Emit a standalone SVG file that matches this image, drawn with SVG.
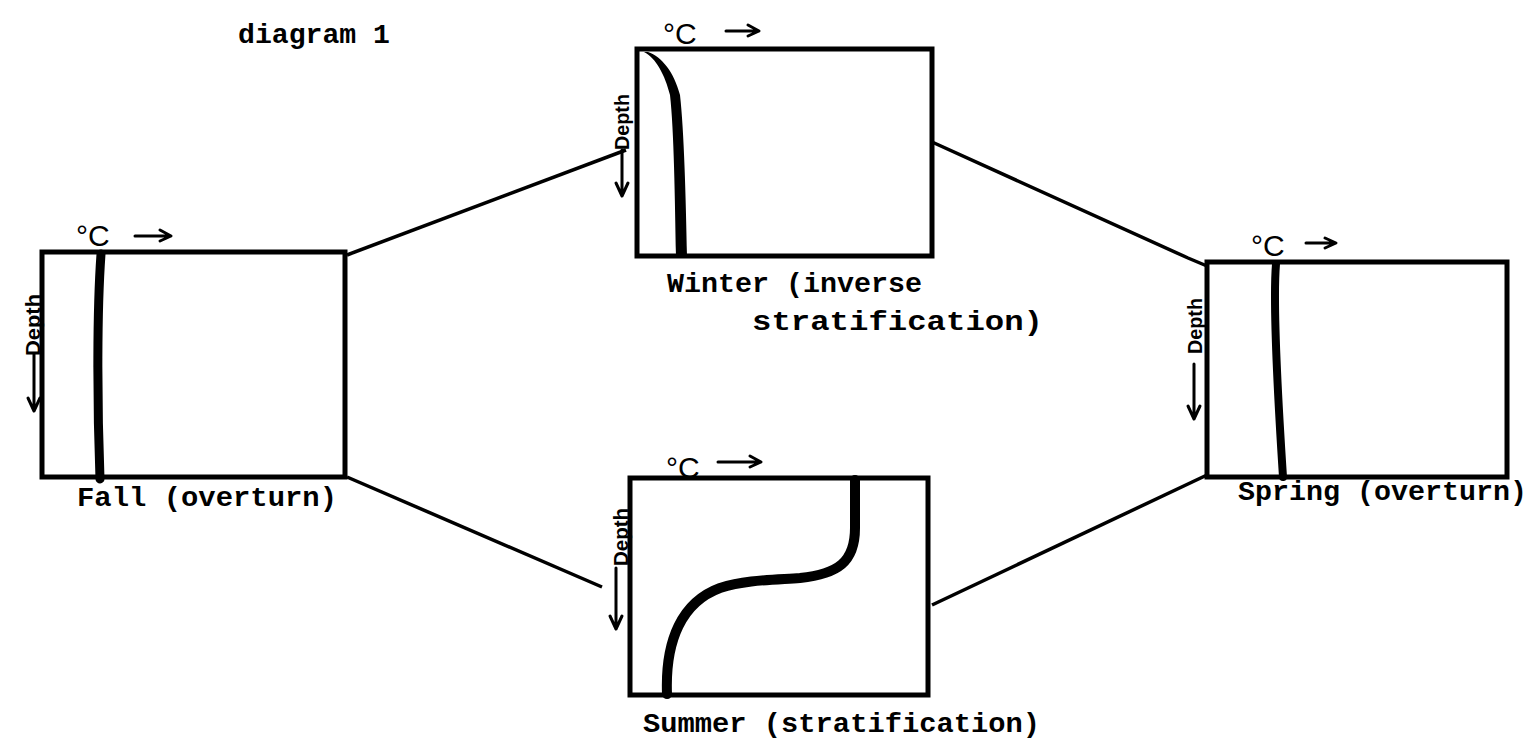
<svg xmlns="http://www.w3.org/2000/svg" width="1535" height="740" viewBox="0 0 1535 740">
<style>
.box{fill:none;stroke:#000;stroke-width:5}
.conn{fill:none;stroke:#000;stroke-width:3.5}
.prof{fill:none;stroke:#000;stroke-linecap:round}
.lbl{font-family:"Liberation Mono","DejaVu Sans Mono",monospace;font-size:28px;fill:#000;font-weight:bold}
.deg{font-family:"Liberation Sans",Arial,sans-serif;font-size:30px;fill:#000}
.dep{font-family:"Liberation Sans",Arial,sans-serif;font-size:21px;font-weight:bold;fill:#000}
.arr{fill:none;stroke:#000;stroke-width:3;stroke-linecap:round;stroke-linejoin:round}
</style>
<rect width="1535" height="740" fill="#fff"/>
<text class="lbl" x="238" y="43" textLength="152" lengthAdjust="spacingAndGlyphs">diagram 1</text>
<g id="connectors">
<path class="conn" d="M347,255 L626,150"/>
<path class="conn" d="M932,142 L1188,258 L1207,266"/>
<path class="conn" d="M347,477 L602,587"/>
<path class="conn" d="M932,605 L1207,475"/>
</g>
<g id="fall">
<rect class="box" x="42" y="252" width="303" height="225"/>
<path class="prof" stroke-width="9" d="M101,254 C97,310 97,400 100,479"/>
<text class="deg" x="76" y="246">°C</text>
<path class="arr" d="M135,236 L170,236 M160,230 L171,236 L160,241"/>
<text class="dep" transform="translate(40,356) rotate(-90)" textLength="62" lengthAdjust="spacingAndGlyphs">Depth</text>
<path class="arr" d="M34,354 L34,410 M28,398 L34,411 L40,398"/>
<text class="lbl" x="77" y="506" textLength="260" lengthAdjust="spacingAndGlyphs">Fall (overturn)</text>
</g>
<g id="winter">
<rect class="box" x="637" y="49" width="295" height="207"/>
<path fill="#000" d="M644,52 C656,58 665,75 670,95 C674,130 675,200 676,256 L687,256 C686,200 684,130 680,95 C674,72 662,57 648,52 Z"/>
<text class="deg" x="663" y="44">°C</text>
<path class="arr" d="M726,31 L758,31 M748,25 L759,31 L748,36"/>
<text class="dep" transform="translate(629,150) rotate(-90)" textLength="56" lengthAdjust="spacingAndGlyphs">Depth</text>
<path class="arr" d="M622,150 L622,195 M616,183 L622,196 L628,183"/>
<text class="lbl" x="667" y="292" textLength="255" lengthAdjust="spacingAndGlyphs">Winter (inverse</text>
<text class="lbl" x="752" y="330" textLength="291" lengthAdjust="spacingAndGlyphs">stratification)</text>
</g>
<g id="spring">
<rect class="box" x="1207" y="262" width="300" height="215"/>
<path class="prof" stroke-width="8" d="M1276,264 C1273,300 1278,400 1283,477"/>
<text class="deg" x="1251" y="256">°C</text>
<path class="arr" d="M1306,243 L1335,243 M1325,238 L1336,243 L1325,248"/>
<text class="dep" transform="translate(1202,354) rotate(-90)" textLength="56" lengthAdjust="spacingAndGlyphs">Depth</text>
<path class="arr" d="M1194,364 L1194,418 M1188,406 L1194,419 L1200,406"/>
<text class="lbl" x="1238" y="500" textLength="289" lengthAdjust="spacingAndGlyphs">Spring (overturn)</text>
</g>
<g id="summer">
<rect class="box" x="630" y="478" width="298" height="217"/>
<path class="prof" stroke-width="10" d="M855,480 L855,528 C855,562 838,574 800,578 C770,580 745,580 720,588 C682,602 665,640 667,694"/>
<text class="deg" x="666" y="478">°C</text>
<path class="arr" d="M718,462 L760,462 M750,456 L761,462 L750,467"/>
<text class="dep" transform="translate(628,566) rotate(-90)" textLength="58" lengthAdjust="spacingAndGlyphs">Depth</text>
<path class="arr" d="M616,568 L616,628 M610,616 L616,629 L622,616"/>
<text class="lbl" x="643" y="732" textLength="397" lengthAdjust="spacingAndGlyphs">Summer (stratification)</text>
</g>
</svg>
